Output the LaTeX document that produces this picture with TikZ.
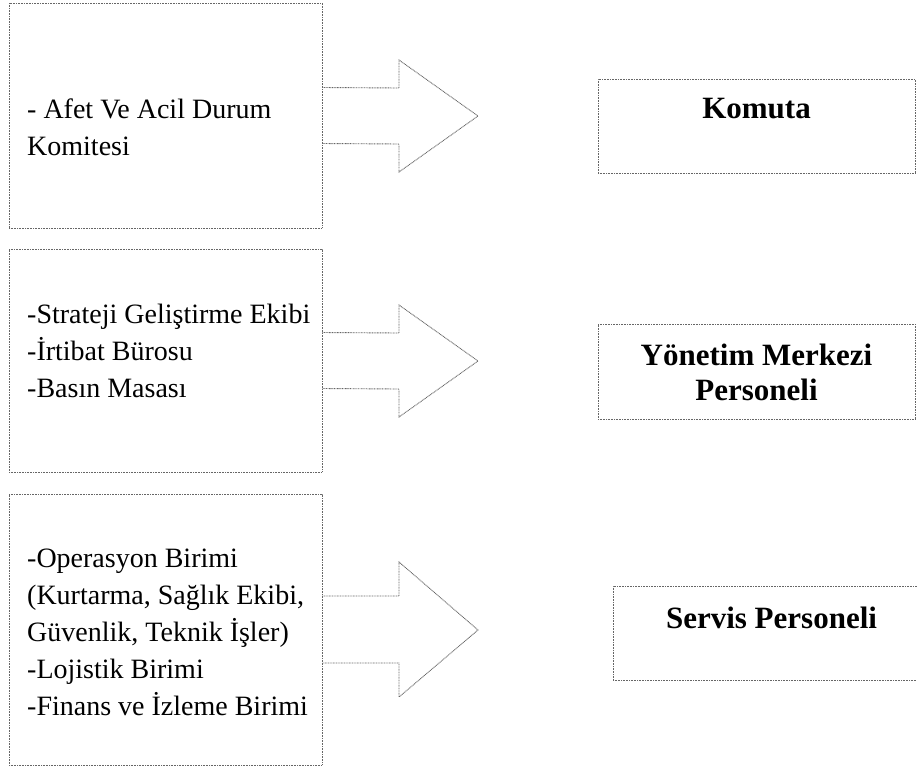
\documentclass[tikz,border=0pt]{standalone}
\usepackage{fontspec}
\setmainfont{Liberation Serif}
\usetikzlibrary{calc}
\begin{document}
\begin{tikzpicture}[x=1pt,y=-1pt,
  frame/.style={draw=black!60, line width=0.9pt, dash pattern=on 0.9pt off 0.7pt, inner sep=0pt},
  blockarrow/.style={draw=black!60, line width=0.9pt, dash pattern=on 0.9pt off 0.7pt, line join=miter},
  listtext/.style={font=\fontsize{28}{37}\selectfont, align=left, anchor=base west, inner sep=0pt},
  headtext/.style={font=\fontsize{31}{35}\selectfont\bfseries, align=center, anchor=base, inner sep=0pt}]
\useasboundingbox (0,0) rectangle (917,766);
\clip (0,0) rectangle (917,766);

% left-hand group boxes
\node[frame, minimum width=313pt, minimum height=225pt] (src1) at (165.5,115.5) {};
\node[frame, minimum width=313pt, minimum height=223pt] (src2) at (165.5,360.5) {};
\node[frame, minimum width=313pt, minimum height=271pt] (src3) at (165.5,629.5) {};

% right-hand role boxes
\node[frame, minimum width=317pt, minimum height=94pt] (dst1) at (756.5,126) {};
\node[frame, minimum width=317pt, minimum height=95pt] (dst2) at (756.5,371.5) {};
\node[frame, minimum width=317pt, minimum height=94pt] (dst3) at (771.5,633) {};

% block arrows from each group to its role
\coordinate (tip1) at (478,116);
\coordinate (tip2) at (478,361);
\coordinate (tip3) at (478,630);
\draw[blockarrow] ($(src1.east)+(0,-28)$) -- (399,88) -- (399,60) -- (tip1)
  -- (399,172) -- (399,144) -- ($(src1.east)+(0,28)$);
\draw[blockarrow] ($(src2.east)+(0,-28)$) -- (399,333) -- (399,305) -- (tip2)
  -- (399,417) -- (399,389) -- ($(src2.east)+(0,28)$);
\draw[blockarrow] ($(src3.east)+(0,-33.5)$) -- (399,596) -- (399,562) -- (tip3)
  -- (399,697) -- (399,663) -- ($(src3.east)+(0,33.5)$);

% group contents (anchored at the baseline of the last line)
\node[listtext] (t1) at (27,155) {- Afet Ve Acil Durum\\Komitesi};
\node[listtext] (t2) at (27,397) {-Strateji Geliştirme Ekibi\\-İrtibat Bürosu\\-Basın Masası};
\node[listtext] (t3) at (27,715) {-Operasyon Birimi\\(Kurtarma, Sağlık Ekibi,\\Güvenlik, Teknik İşler)\\-Lojistik Birimi\\-Finans ve İzleme Birimi};

% role titles
\node[headtext] (h1) at (756.5,118) {Komuta};
\node[headtext] (h2) at (756.5,400) {Yönetim Merkezi\\Personeli};
\node[headtext] (h3) at (771.5,628) {Servis Personeli};
\end{tikzpicture}
\end{document}
